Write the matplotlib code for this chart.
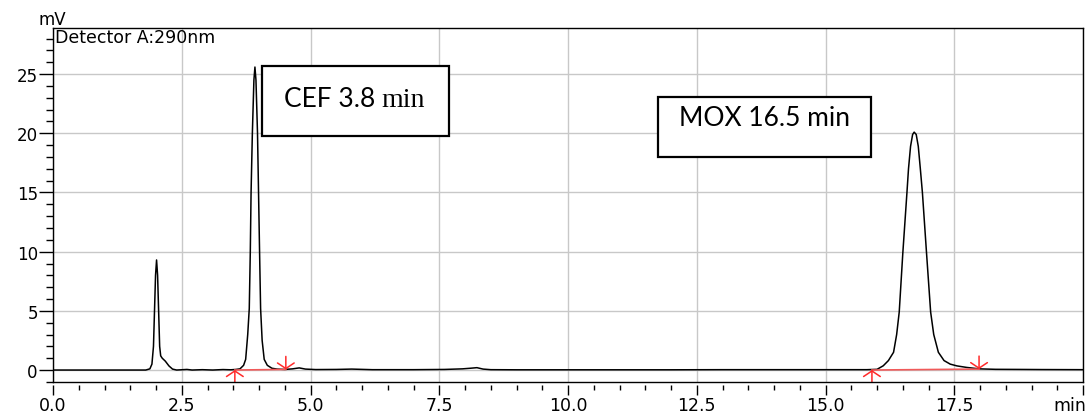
import matplotlib
matplotlib.use('Agg')
import matplotlib.pyplot as plt
from matplotlib.patches import Rectangle
from matplotlib.offsetbox import TextArea, HPacker, AnnotationBbox
import numpy as np

plt.rcParams['font.family'] = 'DejaVu Sans'

# chromatogram trace (min, mV)
time_min = [0.00, 1.00, 1.80, 1.88, 1.92, 1.95, 1.97, 1.99, 2.01, 2.03, 2.05, 2.07,
            2.09, 2.12, 2.18, 2.25, 2.32, 2.40, 2.60, 2.70, 2.90, 3.10, 3.30, 3.45,
            3.55, 3.63, 3.70, 3.74, 3.78, 3.81, 3.83, 3.845, 3.87, 3.90, 3.92, 3.94,
            3.97, 3.99, 4.01, 4.03, 4.06, 4.10, 4.16, 4.25, 4.35, 4.50, 4.65, 4.78,
            4.90, 5.10, 5.50, 5.80, 6.20, 7.00, 7.60, 7.95, 8.10, 8.23, 8.35, 8.50,
            9.00, 10.0, 11.0, 12.0, 13.0, 14.0, 15.0, 15.80, 16.00, 16.12, 16.22,
            16.32, 16.38, 16.43, 16.50, 16.58, 16.61, 16.65, 16.69, 16.72, 16.76,
            16.80, 16.84, 16.88, 16.96, 17.04, 17.10, 17.19, 17.30, 17.42, 17.55,
            17.74, 17.98, 18.30, 18.80, 19.20, 20.00]
signal_mv = [0.00, 0.00, 0.00, 0.10, 0.50, 2.00, 5.00, 8.00, 9.30, 8.00, 5.00, 2.00,
             1.20, 1.00, 0.75, 0.35, 0.08, 0.00, 0.05, 0.00, 0.03, 0.00, 0.04, 0.02,
             0.05, 0.10, 0.40, 0.90, 3.00, 5.20, 10.0, 15.0, 20.0, 24.5, 25.6, 24.5,
             20.0, 15.0, 10.0, 5.20, 2.50, 0.90, 0.40, 0.15, 0.08, 0.05, 0.10, 0.18,
             0.08, 0.04, 0.05, 0.08, 0.03, 0.03, 0.05, 0.10, 0.15, 0.20, 0.08, 0.03,
             0.02, 0.02, 0.02, 0.02, 0.03, 0.03, 0.03, 0.03, 0.06, 0.36, 0.80,
             1.50, 3.00, 4.90, 9.90, 15.0, 17.0, 18.9, 19.9, 20.1, 19.9,
             18.9, 17.0, 15.0, 9.90, 4.90, 3.00, 1.50, 0.80, 0.50, 0.35,
             0.22, 0.10, 0.06, 0.05, 0.04, 0.03]

# integration baselines: (start min, start mV, end min, end mV)
cef_base = (3.53, 0.00, 4.52, 0.05)
mox_base = (15.90, 0.00, 17.98, 0.08)

x_ticks = [0.0, 2.5, 5.0, 7.5, 10.0, 12.5, 15.0, 17.5, 20.0]
x_labels = ['0.0', '2.5', '5.0', '7.5', '10.0', '12.5', '15.0', '17.5', '']
y_ticks = [0, 5, 10, 15, 20, 25]

fig = plt.figure(figsize=(10.87, 4.14), dpi=100)
ax = fig.add_axes([0.0488, 0.0749, 0.9476, 0.8551])

ax.grid(True, color='#c8c8c8', lw=1)
ax.set_axisbelow(True)
ax.plot(time_min, signal_mv, color='black', lw=1.1, zorder=3)

red = '#ff2a2a'
arrow = '->,head_length=0.4,head_width=0.6'
for t0, y0, t1, y1 in [cef_base, mox_base]:
    ax.plot([t0, t1], [y0, y1], color='#f05a5a', lw=1.2, zorder=4)
    # start marker: arrow pointing up
    ax.annotate('', xy=(t0, y0), xytext=(t0, y0 - 1.0),
                arrowprops=dict(arrowstyle=arrow, color=red, lw=1.1,
                                shrinkA=0, shrinkB=0),
                zorder=5, annotation_clip=False)
    # end marker: arrow pointing down
    ax.annotate('', xy=(t1, y1), xytext=(t1, y1 + 1.1),
                arrowprops=dict(arrowstyle=arrow, color=red, lw=1.1,
                                shrinkA=0, shrinkB=0),
                zorder=5)

ax.set_xlim(0, 20)
ax.set_ylim(-1.01, 28.9)
ax.set_xticks(x_ticks)
ax.set_xticklabels(x_labels)
ax.set_xticks(np.arange(0, 20.01, 0.5), minor=True)
ax.set_yticks(y_ticks)
ax.set_yticks(np.arange(-1, 29, 1), minor=True)
ax.tick_params(axis='x', which='major', length=7, width=1, pad=1, labelsize=12.5)
ax.tick_params(axis='x', which='minor', length=3.5, width=1)
ax.tick_params(axis='y', which='major', length=10, width=1, pad=1, labelsize=12)
ax.tick_params(axis='y', which='minor', length=5, width=1)

# x ticks hang a little below the frame
ax.spines['bottom'].set_position(('outward', 2))
ax.spines['bottom'].set_visible(False)
ax.plot([0, 1], [0, 0], transform=ax.transAxes, color='black', lw=1,
        clip_on=False, zorder=6)
for s in ['left', 'right', 'top']:
    ax.spines[s].set_linewidth(1)

ax.text(0.002, 0.999, 'Detector A:290nm', transform=ax.transAxes, fontsize=12.5,
        va='top', ha='left')
fig.text(38 / 1087, 1 - 25 / 414, 'mV', fontsize=12, ha='left', va='baseline')
fig.text(0.999, 3 / 414, 'min', fontsize=12.5, ha='right', va='baseline')

# peak label boxes
ax.add_patch(Rectangle((4.06, 19.8), 3.63, 5.9, facecolor='white',
                       edgecolor='black', lw=1.6, zorder=7))
label = HPacker(children=[TextArea('CEF 3.8 ', textprops=dict(family='Lato', size=19)),
                          TextArea('min', textprops=dict(family='Liberation Serif', size=20))],
                align='baseline', pad=0, sep=0)
ax.add_artist(AnnotationBbox(label, (5.85, 22.9), frameon=False, zorder=8))

ax.add_patch(Rectangle((11.75, 18.0), 4.13, 5.1, facecolor='white',
                       edgecolor='black', lw=1.6, zorder=7))
ax.text(13.82, 21.35, 'MOX 16.5 min', family='Lato', fontsize=19,
        ha='center', va='center', zorder=8)

fig.savefig('out.png', dpi=100)
